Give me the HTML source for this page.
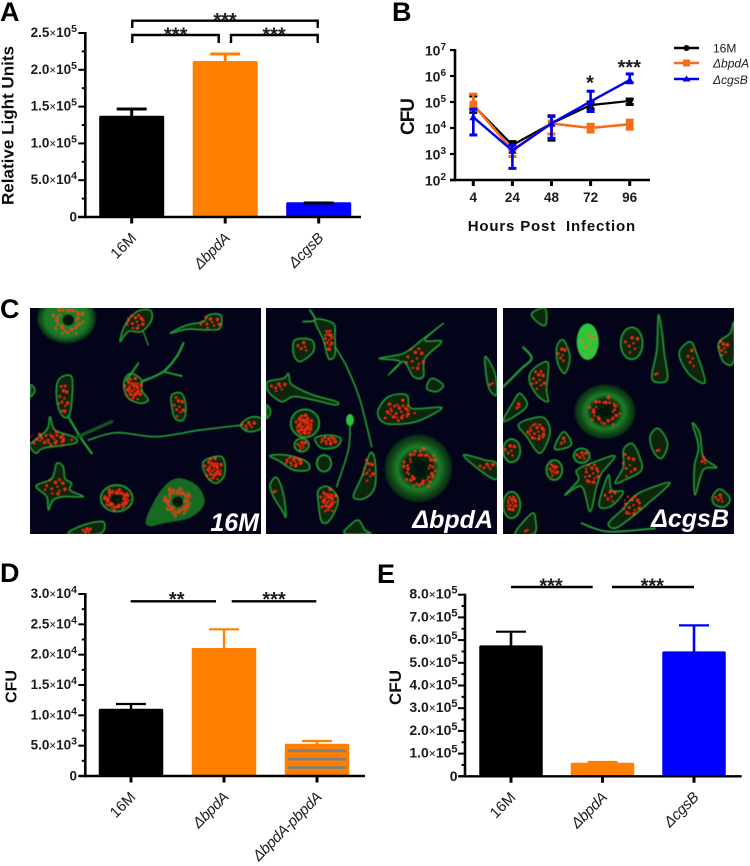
<!DOCTYPE html>
<html lang="en">
<head>
<meta charset="utf-8">
<title>Multi-panel bacterial infection figure</title>
<style>
html,body{margin:0;padding:0;background:#fff;width:750px;height:866px;overflow:hidden}
svg{display:block}
text{font-family:"Liberation Sans",sans-serif;fill:#1a1a1a}
.letter{font-size:27px;font-weight:bold;fill:#000}
.title{font-weight:bold;fill:#111}
.micro{font-size:25px;font-weight:bold;font-style:italic;fill:#fff}
</style>
</head>
<body>
<svg id="fig" xmlns="http://www.w3.org/2000/svg" width="750" height="866" viewBox="0 0 750 866">
  <defs>
    <filter id="soft" x="-5%" y="-5%" width="110%" height="110%"><feGaussianBlur stdDeviation="0.35"/></filter>
    <filter id="softer" x="-5%" y="-5%" width="110%" height="110%"><feGaussianBlur stdDeviation="1.6"/></filter>
    <radialGradient id="fuzz"><stop offset="0" stop-color="#1c7a28"/><stop offset="0.7" stop-color="#1c7a28"/><stop offset="0.88" stop-color="#0e4618"/><stop offset="1" stop-color="#0e4618" stop-opacity="0"/></radialGradient>
    <radialGradient id="ring"><stop offset="0" stop-color="#06200c"/><stop offset="0.4" stop-color="#06200c"/><stop offset="0.6" stop-color="#1d8029"/><stop offset="0.75" stop-color="#12561c"/><stop offset="0.92" stop-color="#092f12"/><stop offset="1" stop-color="#092f12" stop-opacity="0"/></radialGradient>
    <clipPath id="clip-0"><rect x="30" y="308" width="231" height="226"/></clipPath>
    <clipPath id="clip-1"><rect x="266" y="308" width="231" height="226"/></clipPath>
    <clipPath id="clip-2"><rect x="503" y="308" width="231" height="226"/></clipPath>
  </defs>
  <rect width="750" height="866" fill="#fff"/>

  <text class="letter" x="0" y="21">A</text>
  <text class="letter" x="392" y="21">B</text>
  <text class="letter" x="0" y="318">C</text>
  <text class="letter" x="0" y="582">D</text>
  <text class="letter" x="377" y="583">E</text>

  <g id="micro">
    <rect x="30" y="308" width="231" height="226" fill="#03031a"/>
    <rect x="266" y="308" width="231" height="226" fill="#03031a"/>
    <rect x="503" y="308" width="231" height="226" fill="#03031a"/>
  </g>

  <g id="panelA" filter="url(#soft)"></g>
  <g id="panelB" filter="url(#soft)"></g>
  <g id="panelD" filter="url(#soft)"></g>
  <g id="panelE" filter="url(#soft)"></g>

  <text class="micro" x="259" y="531" text-anchor="end">16M</text>
  <text class="micro" x="493" y="528" text-anchor="end">ΔbpdA</text>
  <text class="micro" x="729" y="527" text-anchor="end">ΔcgsB</text>
</svg>

<script>
/* ---------- chart data ---------- */
const aCategories = ["16M", "ΔbpdA", "ΔcgsB"];
const aMeans = [137600, 212000, 20000];
const aUpper = [146700, 221500, 19000];
const aTicks = [0, 50000, 100000, 150000, 200000, 250000];
const aTickLabels = [["0"], ["5.0", "4"], ["1.0", "5"], ["1.5", "5"], ["2.0", "5"], ["2.5", "5"]];

const dCategories = ["16M", "ΔbpdA", "ΔbpdA-pbpdA"];
const dMeans = [11090, 21100, 5320];
const dUpper = [11870, 24180, 5770];
const dTicks = [0, 5000, 10000, 15000, 20000, 25000, 30000];
const dTickLabels = [["0"], ["5.0", "3"], ["1.0", "4"], ["1.5", "4"], ["2.0", "4"], ["2.5", "4"], ["3.0", "4"]];

const eCategories = ["16M", "ΔbpdA", "ΔcgsB"];
const eMeans = [577000, 59900, 550600];
const eUpper = [637000, 63000, 665000];
const eTicks = [0, 100000, 200000, 300000, 400000, 500000, 600000, 700000, 800000];
const eTickLabels = [["0"], ["1.0", "5"], ["2.0", "5"], ["3.0", "5"], ["4.0", "5"], ["5.0", "5"], ["6.0", "5"], ["7.0", "5"], ["8.0", "5"]];

const bHours = ["4", "24", "48", "72", "96"];
const bExponents = [2, 3, 4, 5, 6, 7];
const b16M = [76000, 2200, 15000, 76000, 110000];
const b16MUpper = [170000, 3000, 28000, 100000, 130000];
const b16MLower = [40000, 1500, 3400, 55000, 80000];
const bBpdA = [80000, 1400, 15000, 10000, 14000];
const bBpdAUpper = [200000, 2000, 30000, 14000, 20000];
const bBpdALower = [49000, 800, 5900, 7000, 9000];
const bCgsB = [26000, 1350, 15000, 105000, 700000];
const bCgsBUpper = [53000, 2200, 29000, 260000, 1200000];
const bCgsBLower = [5400, 280, 4000, 43000, 550000];

/* ---------- helpers ---------- */
const NS = "http://www.w3.org/2000/svg";
function mk(parent, tag, attrs, name) {
  const el = document.createElementNS(NS, tag);
  for (const k in attrs) el.setAttribute(k, attrs[k]);
  
  
  parent.appendChild(el);
  return el;
}
function line(p, x1, y1, x2, y2, color, w, name) {
  return mk(p, "line", {x1, y1, x2, y2, stroke: color, "stroke-width": w}, name);
}
function sub(parent, str, attrs) {
  const t = document.createElementNS(NS, "tspan");
  for (const k in attrs) t.setAttribute(k, attrs[k]);
  t.textContent = str;
  parent.appendChild(t);
}
function stars(p, x, y, str) {
  const t = mk(p, "text", {x, y, "text-anchor": "middle", "font-size": 20, "font-weight": "bold"}, "significance-stars");
  t.textContent = str;
}
function yTickLabel(p, x, y, parts, fs) {
  const t = mk(p, "text", {x, y, "text-anchor": "end", "font-size": fs, "font-weight": "bold"}, "y-tick-label");
  sub(t, parts[0], {});
  if (parts.length > 1) {
    sub(t, "×", {"font-size": fs - 2, "font-weight": "normal"});
    sub(t, "10", {});
    sub(t, parts[1], {"font-size": fs - 3, dy: -5});
  }
}
function catLabel(p, x, y, str, fs) {
  const t = mk(p, "text", {transform: `translate(${x},${y}) rotate(-45)`, "text-anchor": "end", "font-size": fs, fill: "#222"}, "x-category-label");
  if (str.startsWith("Δ")) {
    t.setAttribute("font-style", "italic");
    t.setAttribute("letter-spacing", "-0.3");
  }
  t.textContent = str;
}

/* ---------- bar chart ---------- */
function barChart(g, c) {
  const yScale = v => c.y0 - (v / c.max) * (c.y0 - c.yTop);
  const xScale = i => c.x0 + i * c.step;
  c.means.forEach((v, i) => {
    const cx = xScale(i);
    const errCol = c.errColors[i];
    const top = yScale(c.upper[i]);
    mk(g, "rect", {x: cx - c.bw / 2, y: yScale(v), width: c.bw, height: c.y0 - yScale(v), rx: 1.5, fill: c.colors[i]}, "bar-" + c.cats[i]);
    if (c.striped === i) {
      for (let s = c.y0; s > yScale(v) + 4; s -= 8.4) {
        line(g, cx - c.bw / 2 + 3, s, cx + c.bw / 2 - 3, s, "#808080", 2.6, "bar-stripe");
      }
    }
    line(g, cx, yScale(v) + (c.upper[i] < v ? 0 : 1), cx, top, errCol, c.errW, "error-stem");
    line(g, cx - 15, top, cx + 15, top, errCol, c.capW, "error-cap");
  });
  line(g, c.axisX, yScale(c.max) - 1, c.axisX, c.y0 + 1.2, "#000", 2.6, "y-axis");
  line(g, c.axisLeft, c.y0, c.axisRight, c.y0, "#000", 2.4, "x-axis");
  c.ticks.forEach((v, i) => {
    line(g, c.axisX - 7, yScale(v), c.axisX, yScale(v), "#000", 2, "y-tick");
    if (i > 0) {
      const m = yScale((v + c.ticks[i - 1]) / 2);
      line(g, c.axisX - 3.5, m, c.axisX, m, "#000", 2, "y-minor-tick");
    }
    yTickLabel(g, c.labelX, yScale(v) + (i === 0 ? 4.5 : 4), c.labels[i], c.fs);
  });
  c.cats.forEach((s, i) => {
    line(g, xScale(i), c.y0, xScale(i), c.y0 + 6.5, "#000", 3, "x-tick");
    catLabel(g, xScale(i) + 5.5, c.y0 + 22, s, 15);
  });
}

const pA = document.getElementById("panelA");
barChart(pA, {y0: 217, yTop: 33, max: 250000, x0: 131.7, step: 93.5, bw: 65, cats: aCategories, means: aMeans, upper: aUpper,
  colors: ["#000", "#ff8000", "#0000ff"], errColors: ["#000", "#ff8000", "#000"], errW: 3, capW: 3,
  ticks: aTicks, labels: aTickLabels, axisX: 85.3, axisLeft: 78, axisRight: 361, labelX: 77, fs: 13.5});
const tA = mk(pA, "text", {transform: "translate(13.5,125.5) rotate(-90)", "text-anchor": "middle", "font-size": 17, textLength: 159, lengthAdjust: "spacingAndGlyphs", class: "title"}, "y-axis-title");
tA.textContent = "Relative Light Units";
[[132.3, 20.7, 317.7, 28], [132.3, 35, 218.7, 43], [231, 35, 317.7, 43]].forEach(b => {
  mk(pA, "path", {d: `M${b[0]} ${b[3]}V${b[1]}H${b[2]}V${b[3]}`, fill: "none", stroke: "#000", "stroke-width": 2.4}, "significance-bracket");
});
stars(pA, 225, 27, "***");
stars(pA, 175.7, 41.5, "***");
stars(pA, 274, 41.5, "***");

const pD = document.getElementById("panelD");
barChart(pD, {y0: 776, yTop: 594, max: 30000, x0: 131, step: 93, bw: 64.5, cats: dCategories, means: dMeans, upper: dUpper,
  colors: ["#000", "#ff8000", "#ff8000"], errColors: ["#000", "#ff8000", "#ff8000"], errW: 2.4, capW: 2.2, striped: 2,
  ticks: dTicks, labels: dTickLabels, axisX: 85.3, axisLeft: 79, axisRight: 365, labelX: 77, fs: 13.5});
const tD = mk(pD, "text", {transform: "translate(16.7,686.5) rotate(-90)", "text-anchor": "middle", "font-size": 16, textLength: 33, class: "title"}, "y-axis-title");
tD.textContent = "CFU";
line(pD, 130.7, 601.3, 216, 601.3, "#000", 2.4, "significance-line");
line(pD, 231.7, 601.3, 316.3, 601.3, "#000", 2.4, "significance-line");
stars(pD, 176.7, 606, "**");
stars(pD, 274, 606, "***");

const pE = document.getElementById("panelE");
barChart(pE, {y0: 776.3, yTop: 594.7, max: 800000, x0: 511, step: 91.5, bw: 63.5, cats: eCategories, means: eMeans, upper: eUpper,
  colors: ["#000", "#ff8000", "#0000ff"], errColors: ["#000", "#ff8000", "#0000ff"], errW: 2.6, capW: 2.2,
  ticks: eTicks, labels: eTickLabels, axisX: 465, axisLeft: 459, axisRight: 741.7, labelX: 457.5, fs: 14});
const tE = mk(pE, "text", {transform: "translate(401,687.5) rotate(-90)", "text-anchor": "middle", "font-size": 17, textLength: 35, class: "title"}, "y-axis-title");
tE.textContent = "CFU";
line(pE, 511, 587, 592.7, 587, "#000", 2.4, "significance-line");
line(pE, 612, 587, 694, 587, "#000", 2.4, "significance-line");
stars(pE, 551, 592.5, "***");
stars(pE, 652.3, 592.5, "***");

/* ---------- line chart (panel B) ---------- */
const pB = document.getElementById("panelB");
const bY = v => 180 - (Math.log10(v) - 2) * 26;
const bX = i => 473.3 + 39.1 * i;
function series(vals, up, lo, color, lw, marker, name) {
  const g = mk(pB, "g", {}, "series-" + name);
  mk(g, "polyline", {points: vals.map((v, i) => bX(i) + "," + bY(v)).join(" "), fill: "none", stroke: color, "stroke-width": lw}, "series-line");
  vals.forEach((v, i) => {
    const x = bX(i), u = bY(up[i]), l = bY(lo[i]), y = bY(v);
    line(g, x, u, x, l, color, 2.6, "error-bar");
    line(g, x - 4, u, x + 4, u, color, 3, "error-cap");
    line(g, x - 4, l, x + 4, l, color, 3, "error-cap");
    if (marker === "circle") mk(g, "circle", {cx: x, cy: y, r: 3.2, fill: color}, "data-point");
    if (marker === "square") mk(g, "rect", {x: x - 3.8, y: y - 3.8, width: 7.6, height: 7.6, fill: color}, "data-point");
    if (marker === "triangle") mk(g, "path", {d: `M${x} ${y - 4}L${x + 4} ${y + 3}H${x - 4}Z`, fill: color}, "data-point");
  });
}
series(b16M, b16MUpper, b16MLower, "#000", 2.2, "circle", "16m");
series(bBpdA, bBpdAUpper, bBpdALower, "#f96a1b", 2.6, "square", "bpda");
series(bCgsB, bCgsBUpper, bCgsBLower, "#0000f0", 2.4, "triangle", "cgsb");
line(pB, 455, bY(1e7) - 1, 455, 181.2, "#000", 2.6, "y-axis");
line(pB, 450, 180, 650, 180, "#000", 2.4, "x-axis");
bExponents.forEach(e => {
  const y = bY(Math.pow(10, e));
  line(pB, 450, y, 455, y, "#000", 2.2, "y-tick");
  const t = mk(pB, "text", {x: 446, y: y + 5.5, "text-anchor": "end", "font-size": 14, "font-weight": "bold"}, "y-tick-label");
  sub(t, "10", {});
  sub(t, String(e), {"font-size": 10, dy: -5.5});
});
bHours.forEach((h, i) => {
  line(pB, bX(i), 180, bX(i), 186, "#000", 3, "x-tick");
  const t = mk(pB, "text", {x: bX(i), y: 202, "text-anchor": "middle", "font-size": 13.5, "font-weight": "bold"}, "x-tick-label");
  t.textContent = h;
});
const tB = mk(pB, "text", {transform: "translate(414,116.5) rotate(-90)", "text-anchor": "middle", "font-size": 19, textLength: 37, class: "title"}, "y-axis-title");
tB.textContent = "CFU";
const xB = mk(pB, "text", {x: 467.7, y: 231, "font-size": 15, textLength: 167.5, class: "title"}, "x-axis-title");
xB.textContent = "Hours Post\u00A0 Infection";
stars(pB, 590, 89.5, "*");
stars(pB, 629.3, 74, "***");
[["16M", 48, 52.7, "#000", "circle", "normal"], ["ΔbpdA", 63, 67.7, "#f96a1b", "square", "italic"], ["ΔcgsB", 79, 84, "#0000f0", "triangle", "italic"]].forEach(r => {
  const g = mk(pB, "g", {}, "legend-entry");
  line(g, 674, r[1], 699, r[1], r[3], 2.4, "legend-line");
  const x = 686.5, y = r[1];
  if (r[4] === "circle") mk(g, "circle", {cx: x, cy: y, r: 3, fill: r[3]}, "legend-marker");
  if (r[4] === "square") mk(g, "rect", {x: x - 3.5, y: y - 3.5, width: 7, height: 7, fill: r[3]}, "legend-marker");
  if (r[4] === "triangle") mk(g, "path", {d: `M${x} ${y - 3.5}L${x + 4} ${y + 2.5}H${x - 4}Z`, fill: r[3]}, "legend-marker");
  const t = mk(g, "text", {x: 713, y: r[2], "font-size": 12, "font-style": r[5], fill: "#222"}, "legend-label");
  t.textContent = r[0];
});

/* ---------- micrographs (decorative cells, coordinates in 3x crop space) ---------- */
const cellsP1 = [
  ['f',200,85,92,78,[205,90,42,40,28,1]],
  ['p',"360,155 375,105 410,65 450,60 455,90 425,125 385,125",[405,95,30,25,14]],
  ['l',"430,125 445,165",4],
  ['p',"510,130 560,105 610,95 625,75 662,75 660,115 620,120 560,118",[630,97,30,18,10]],
  ['p',"375,265 395,250 425,270 425,300 445,330 420,340 385,325 372,295",[400,298,25,32,30]],
  ['l',"380,270 415,220",6],['l',"425,275 490,245 530,200 550,160",7],['l',"490,245 545,258",6],
  ['p',"515,315 545,310 558,350 550,390 525,385 515,350",[535,350,15,30,9]],
  ['p',"175,270 215,260 215,340 205,380 185,375 170,330",[190,325,15,45,12]],
  ['l',"205,380 240,440 275,490",7],
  ['p',"92,460 140,420 150,380 165,420 220,440 225,460 130,475 110,490 92,475",[155,447,60,20,26]],
  ['l',"235,440 335,395",10,"#16581f"],
  ['l',"265,450 350,428 470,440 600,420 730,405",5],
  ['p',"722,405 750,382 783,385 783,415 745,425",[745,405,20,10,7]],
  ['p',"92,285 105,300 92,320"],
  ['p',"610,515 665,500 675,550 650,580 620,560",[640,538,24,32,30]],
  ['p',"108,588 155,565 170,520 190,530 195,565 215,580 210,600 250,620 195,620 160,630 145,660 140,620",[165,590,35,25,12]],
  ['e',350,625,48,40,[350,628,36,28,42,1]],
  ['f2',"440,700 480,610 530,568 590,590 610,640 570,680 500,695",[533,635,38,38,42,1]],
  ['p',"205,731 250,705 310,695 300,731",[260,722,12,8,7]]
];
const cellsP2a = [
  ['l',"910,95 945,90 930,60",6],
  ['p',"945,90 1000,100 1005,140 1005,195 985,205 970,150",[985,150,13,35,14]],
  ['l',"1005,170 1040,230 1080,330 1115,470",5],
  ['p',"885,150 935,150 940,185 900,215 880,190",[910,170,15,15,5]],
  ['p',"803,275 850,265 865,250 870,275 885,290 940,315 1010,335 1005,345 940,330 880,320 845,335 805,305",[835,290,22,12,7]],
  ['e',915,400,43,42,[912,405,26,32,38]],
  ['p',"945,445 985,435 1022,445 1010,470 965,475",[985,452,26,12,13]],
  ['e',905,465,22,20,[905,465,12,12,7]],
  ['p',"810,497 860,495 920,515 925,540 880,540 840,515",[880,515,28,15,14]],
  ['e',972,520,22,25],
  ['p',"810,585 830,562 850,610 858,680 845,660 820,620",[825,603,4,4,2]],
  ['b',1050,390,12,18],
  ['l',"1050,405 1045,480 1010,590",5],
  ['p',"955,600 985,590 1015,630 990,690 965,695 955,640",[985,632,22,32,28]],
  ['p',"1060,620 1085,560 1110,490 1125,510 1125,590 1095,625",[1105,540,15,35,10]],
  ['p',"1035,731 1045,710 1075,690 1095,720 1110,731"],
  ['p',"800,345 812,365 800,385"]
];
const cellsP2b = [
  ['p',"12,205 85,190 140,150 205,100 150,150 200,155 150,205 145,260 115,260 85,215 40,255 75,215",[120,205,30,35,12]],
  ['p',"155,295 170,265 205,285 185,305"],
  ['p',"8,365 40,320 95,315 110,355 200,352 150,385 100,400 30,400",[72,365,45,30,24]],
  ['r',130,535,105,105,[135,535,48,58,40,1]],
  ['p',"330,200 360,250 365,315 340,290",[350,280,6,6,2]],
  ['p',"265,495 330,510 365,520 365,568 320,545",[335,530,20,10,6]]
];
const cellsP3 = [
  ['p',"470,70 510,55 512,105 485,95"],
  ['b',638,155,33,55,[640,160,20,35,7]],
  ['e',770,160,33,48,[770,160,20,25,7]],
  ['p',"850,75 862,130 868,190 878,265 850,278 830,260 845,180",[845,250,5,5,2]],
  ['p',"912,190 945,155 965,190 990,278 940,250",[950,205,10,30,5]],
  ['p',"1030,160 1065,130 1076,100 1076,215 1045,215",[1045,175,15,20,8]],
  ['p',"545,170 565,150 585,200 570,250 548,220",[560,195,10,25,6]],
  ['p',"465,250 490,225 520,220 515,300 520,335 490,320 465,280",[490,270,20,30,11]],
  ['l',"385,290 440,235 470,205 445,172",7],
  ['p',"385,395 415,335 435,310 455,350",[430,350,8,8,3]],
  ['p',"430,405 470,385 510,385 525,430 495,490 455,440",[485,425,30,30,18]],
  ['r',690,365,95,85,[690,365,42,38,26,1]],
  ['p',"538,475 565,425 590,460 570,475",[565,455,10,10,3]],
  ['e',410,482,26,35,[405,482,14,20,6]],
  ['e',620,497,24,22,[620,497,14,12,6]],
  ['e',538,540,24,30,[535,540,12,18,9]],
  ['p',"825,440 850,415 878,460 860,505 835,485",[850,480,5,3,2]],
  ['p',"952,400 975,430 985,500 1025,532 985,540 960,615 958,530 970,470",[985,510,8,10,4]],
  ['p',"1012,620 1035,597 1065,625 1050,650 1020,645",[1035,625,12,12,5]],
  ['e',410,645,26,40,[410,640,16,25,15]],
  ['p',"745,480 770,460 790,490 800,540 750,570 720,578 745,530",[760,525,20,35,9]],
  ['p',"570,615 610,570 605,540 660,515 720,498 680,550 665,590 645,665 620,590",[650,550,25,35,15]],
  ['p',"672,640 700,555 710,600 745,605 720,640 690,655",[705,620,15,20,6]],
  ['p',"700,700 740,660 790,610 885,578 820,640 760,690 720,715",[770,645,30,35,15]],
  ['p',"420,731 470,670 482,690 478,731",[455,720,5,5,2]],
  ['l',"620,700 700,725 840,715",6]
];
function smooth(ptsStr, closed) {
  const p = ptsStr.trim().split(/\s+/).map(s => s.split(",").map(Number));
  const n = p.length;
  const at = i => closed ? p[(i + n) % n] : p[Math.max(0, Math.min(n - 1, i))];
  let d = `M${p[0][0]} ${p[0][1]}`;
  const last = closed ? n : n - 1;
  for (let i = 0; i < last; i++) {
    const a = at(i - 1), b = at(i), c = at(i + 1), e = at(i + 2);
    d += `C${b[0] + (c[0] - a[0]) / 6} ${b[1] + (c[1] - a[1]) / 6} ${c[0] - (e[0] - b[0]) / 6} ${c[1] - (e[1] - b[1]) / 6} ${c[0]} ${c[1]}`;
  }
  return d + (closed ? "Z" : "");
}
function drawDots(g, d) {
  if (!d) return;
  const [cx, cy, rx, ry, n, hole] = d;
  if (hole) mk(g, "ellipse", {cx, cy, rx: rx * 0.42, ry: ry * 0.42, fill: "#05190c"}, "nucleus");
  for (let k = 0; k < n; k++) {
    let r = Math.sqrt((k + 0.5) / n);
    if (hole) r = 0.5 + 0.5 * r;
    const a = k * 2.39996;
    const j = 1 + 0.18 * Math.sin(k * 12.9);
    mk(g, "circle", {cx: cx + rx * r * j * Math.cos(a), cy: cy + ry * r * j * Math.sin(a), r: 2.8 + (k % 3) * 0.8, fill: "#ff2a10"}, "red-bacterium");
  }
}
function drawCells(list, panel, ox, oy) {
  const outer = mk(document.getElementById("micro"), "g", {"clip-path": `url(#clip-${panel})`}, "micrograph-cells");
  const g = mk(outer, "g", {transform: `translate(${ox},${oy}) scale(0.33333)`, filter: "url(#softer)"}, "cell-layer");
  const green = "#249a34", fill = "#072610";
  list.forEach(c => {
    const cg = mk(g, "g", {}, "cell");
    const t = c[0];
    if (t === 'p') {
      mk(cg, "path", {d: smooth(c[1], true), fill, stroke: green, "stroke-width": 4.5, "stroke-linejoin": "round"}, "cell-body");
      drawDots(cg, c[2]);
    } else if (t === 'l') {
      mk(cg, "path", {d: smooth(c[1], false), fill: "none", stroke: c[3] || green, "stroke-width": c[2], "stroke-linecap": "round", "stroke-linejoin": "round"}, "cell-process");
    } else if (t === 'e') {
      mk(cg, "ellipse", {cx: c[1], cy: c[2], rx: c[3], ry: c[4], fill, stroke: green, "stroke-width": 5}, "cell-body");
      drawDots(cg, c[5]);
    } else if (t === 'f') {
      mk(cg, "ellipse", {cx: c[1], cy: c[2], rx: c[3], ry: c[4], fill: "url(#fuzz)"}, "cell-body");
      drawDots(cg, c[5]);
    } else if (t === 'r') {
      mk(cg, "ellipse", {cx: c[1], cy: c[2], rx: c[3], ry: c[4], fill: "url(#ring)"}, "cell-body");
      drawDots(cg, c[5]);
    } else if (t === 'f2') {
      mk(cg, "path", {d: smooth(c[1], true), fill: "#176a24", stroke: "#176a24", "stroke-width": 6, "stroke-linejoin": "round"}, "cell-body");
      drawDots(cg, c[2]);
    } else if (t === 'b') {
      mk(cg, "ellipse", {cx: c[1], cy: c[2], rx: c[3], ry: c[4], fill: "#2fc53c"}, "bright-cell");
      if (c[5]) drawDots(cg, c[5]);
    }
  });
}
drawCells(cellsP1, 0, 0, 290);
drawCells(cellsP2a, 1, 0, 290);
drawCells(cellsP2b, 1, 375, 290);
drawCells(cellsP3, 2, 375, 290);
</script>
</body>
</html>
